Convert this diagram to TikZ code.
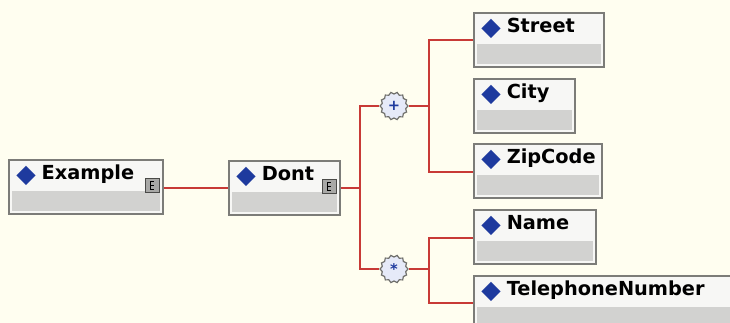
\documentclass[tikz,border=0pt]{standalone}
\usepackage{fontspec}
\setmainfont{DejaVu Sans}
\usetikzlibrary{calc, positioning, shapes.geometric}
\definecolor{xsBack}{HTML}{FFFEF0}
\definecolor{xsLine}{HTML}{C83A36}
\definecolor{xsFrame}{HTML}{7C7C78}
\definecolor{xsHead}{HTML}{F7F7F5}
\definecolor{xsBody}{HTML}{D2D2D0}
\definecolor{xsBlue}{HTML}{1E3A9E}
\definecolor{xsBubble}{HTML}{E6EAF8}
\newdimen\unitpx \unitpx=0.75pt
\newcommand\dia{\raisebox{-3\unitpx}{\fontsize{19}{19}\selectfont\color{xsBlue}◆}\hspace{6\unitpx}}
\tikzset{
  elem/.style     = {rectangle, anchor=north west, draw=xsFrame, line width=1.8\unitpx,
                     fill=xsHead, minimum width=#1\unitpx, minimum height=54\unitpx, inner sep=0pt,
                     path picture={\fill[xsBody]
                       ($(path picture bounding box.south west)+(3\unitpx,3\unitpx)$) rectangle
                       ($(path picture bounding box.north east)+(-3\unitpx,-31\unitpx)$);}},
  elemname/.style = {anchor=base west, inner sep=0pt, xshift=8\unitpx, yshift=-21\unitpx,
                     font=\fontsize{14.5}{16}\selectfont\bfseries},
  modelicon/.style = {rectangle, anchor=north east, draw=xsFrame!60!black, fill=xsBody!80!black,
                     line width=1\unitpx, minimum size=14\unitpx, inner sep=0pt,
                     xshift=-4\unitpx, yshift=-19\unitpx,
                     path picture={\draw[black, line width=0.9\unitpx]
                       ($(path picture bounding box.center)+(-2\unitpx,4\unitpx)$) -- ++(0,-8\unitpx)
                       ($(path picture bounding box.center)+(-2\unitpx,0)$) -- ++(4\unitpx,0)
                       ($(path picture bounding box.center)+(-2\unitpx,4\unitpx)$) -- ++(4\unitpx,0)
                       ($(path picture bounding box.center)+(-2\unitpx,-4\unitpx)$) -- ++(4\unitpx,0);}},
  compositor/.style = {star, star points=14, star point ratio=0.86, minimum size=24\unitpx,
                     draw=xsFrame!90!black, fill=xsBubble, line width=1.2\unitpx, inner sep=0pt,
                     font=\fontsize{11}{11}\selectfont\bfseries, text=xsBlue},
  conn/.style     = {xsLine, line width=1.6\unitpx},
}
\begin{document}
\begin{tikzpicture}[x=0.75pt, y=-0.75pt]
  \path[use as bounding box, fill=xsBack] (0,0) rectangle (730,323);
  \begin{scope}
  \clip (0,0) rectangle (730,323);
  % global element and its complex type
  \node[elem=154, label={[elemname, name=exampleT]north west:\dia Example}] (example) at (8,159) {};
  \node[modelicon] (exampleI) at (example.north east) {};
  \node[elem=111, label={[elemname, name=dontT]north west:\dia Dont}] (dont) at (228,160) {};
  \node[modelicon] (dontI) at (dont.north east) {};
  % compositors
  \node[compositor] (seq) at (394,106) {+};
  \node[compositor] (choice) at (394,269) {*};
  % child elements
  \node[elem=130, label={[elemname, name=streetT]north west:\dia Street}] (street) at (473,12) {};
  \node[elem=101, label={[elemname, name=cityT]north west:\dia City}] (city) at (473,78) {};
  \node[elem=128, label={[elemname, name=zipcodeT]north west:\dia ZipCode}] (zipcode) at (473,143) {};
  \node[elem=122, label={[elemname, name=nameT]north west:\dia Name}] (name) at (473,209) {};
  \node[elem=275, label={[elemname, name=telephoneT]north west:\dia TelephoneNumber}] (telephone) at (473,275) {};
  % connectors
  \draw[conn] ($(example.north east)+(0,29)$) -- ($(dont.north west)+(0,28)$);
  \draw[conn] ($(dont.north east)+(0,28)$) -- ++(19,0) coordinate (trunk) |- (seq.west);
  \draw[conn] (trunk) |- (choice.west);
  \draw[conn] (seq.east) -- ++(20,0) coordinate (seqbus) |- ($(street.north west)+(0,28)$);
  \draw[conn] (seqbus) |- ($(zipcode.north west)+(0,29)$);
  \draw[conn] (choice.east) -- ++(20,0) coordinate (choicebus) |- ($(name.north west)+(0,29)$);
  \draw[conn] (choicebus) |- ($(telephone.north west)+(0,28)$);
  \end{scope}
\end{tikzpicture}
\end{document}
